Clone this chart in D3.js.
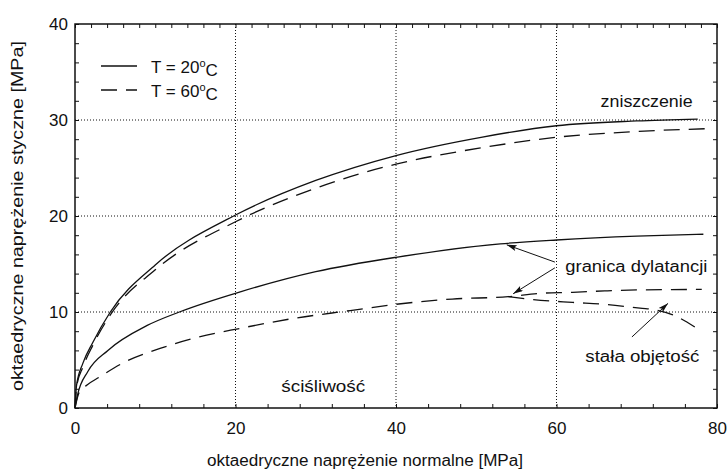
<!DOCTYPE html>
<html>
<head>
<meta charset="utf-8">
<script src="https://cdn.jsdelivr.net/npm/d3@7"></script>
<style>
  body { margin: 0; background: #fff; }
  svg text { font-family: "Liberation Sans", Arial, sans-serif; fill: #111; }
</style>
</head>
<body>
<svg id="chart" width="728" height="472"></svg>
<script>
// axis ticks
const xTicks = [0, 20, 40, 60, 80];
const yTicks = [0, 10, 20, 30, 40];

// granica zniszczenia (failure)
const failure20 = [[0,0],[0.2,2.4],[1,4.7],[2.2,6.8],[4.4,10],[10,14.9],[20,20.1],[30,23.7],[40,26.3],[50.6,28.2],[60,29.4],[70,29.9],[77.6,30.1]];
const failure60 = [[0,0],[0.2,2.2],[1,4.3],[2.2,6.5],[4.4,9.7],[10,14.4],[20,19.4],[30,22.9],[35.5,24.4],[40,25.4],[50.6,27.1],[60,28.2],[70,28.8],[78.8,29.1]];

// granica dylatancji
const dilat20 = [[0,0],[0.3,1.3],[1.6,3.8],[4.1,6.0],[9,8.6],[13,10],[20.6,12.1],[30,14.2],[40,15.7],[53,17.1],[60,17.5],[70,17.9],[78.3,18.1]];
const dilat60 = [[0,0],[0.5,1.6],[1.5,2.4],[3,3.2],[6,4.7],[10.6,6.2],[15,7.3],[20.6,8.3],[27,9.3],[34.3,10.15],[40,10.8],[47,11.35],[54,11.6],[58,11.95],[62,12.05],[66,12.2],[70,12.3],[78.1,12.35]];

// stała objętość
const constVol = [[54,11.6],[57,11.3],[62,11.0],[66,10.8],[70.4,10.4],[72.5,10.2],[74.5,9.7],[77.3,8.4]];

const labels = [
  {t: "zniszczenie", x: 65.5, y: 31.9, w: 92},
  {t: "granica dylatancji", x: 61.1, y: 14.7, w: 142},
  {t: "stała objętość", x: 63.6, y: 5.4, w: 114},
  {t: "ściśliwość", x: 25.7, y: 2.3, w: 84}
];
const arrows = [
  {from: [59.8, 15.2], to: [53.8, 17.0]},
  {from: [59.8, 14.6], to: [54.6, 11.9]},
  {from: [69.4, 7.4], to: [73.9, 10.9]}
];

const svg = d3.select("#chart");
const margin = {left: 75, right: 11, top: 24, bottom: 64};
const W = 728 - margin.left - margin.right;
const H = 472 - margin.top - margin.bottom;

const x = d3.scaleLinear().domain([0, 80]).range([0, W]);
const y = d3.scaleLinear().domain([0, 40]).range([H, 0]);

const g = svg.append("g").attr("transform", `translate(${margin.left},${margin.top})`);

// dotted grid
g.append("g").selectAll("line").data(xTicks.slice(1, -1)).join("line")
  .attr("x1", d => x(d)).attr("x2", d => x(d)).attr("y1", 0).attr("y2", H)
  .attr("stroke", "#111").attr("stroke-dasharray", "1,2");
g.append("g").selectAll("line").data(yTicks.slice(1, -1)).join("line")
  .attr("y1", d => y(d)).attr("y2", d => y(d)).attr("x1", 0).attr("x2", W)
  .attr("stroke", "#111").attr("stroke-dasharray", "1,2");

// minor ticks (inward)
function ticks(axis, vals, tr) {
  const a = g.append("g").attr("transform", tr)
    .call(axis.tickValues(vals).tickSize(-4).tickFormat(""));
  a.select(".domain").remove();
  a.selectAll("line").attr("stroke", "#111");
}
ticks(d3.axisBottom(x), d3.range(0, 81, 4), `translate(0,${H})`);
ticks(d3.axisTop(x), d3.range(0, 81, 2), "translate(0,0)");
ticks(d3.axisLeft(y), d3.range(0, 41, 2), "translate(0,0)");
ticks(d3.axisRight(y), d3.range(0, 41, 2), `translate(${W},0)`);

// tick labels
const xa = g.append("g").attr("transform", `translate(0,${H})`)
  .call(d3.axisBottom(x).tickValues(xTicks).tickSize(0).tickPadding(14));
xa.select(".domain").remove();
xa.selectAll("text").attr("font-size", 17).attr("font-family", "Liberation Sans").attr("fill", "#111");
const ya = g.append("g")
  .call(d3.axisLeft(y).tickValues(yTicks).tickSize(0).tickPadding(7));
ya.select(".domain").remove();
ya.selectAll("text").attr("font-size", 17).attr("font-family", "Liberation Sans").attr("fill", "#111");

// frame
g.append("rect").attr("width", W).attr("height", H)
  .attr("fill", "none").attr("stroke", "#111").attr("stroke-width", 1.5);

// curves
const line = d3.line().x(d => x(d[0])).y(d => y(d[1])).curve(d3.curveMonotoneX);
const series = [
  {d: failure20, dash: null},
  {d: failure60, dash: "16,9"},
  {d: dilat20, dash: null},
  {d: dilat60, dash: "16,9"},
  {d: constVol, dash: "16,9"}
];
g.append("g").selectAll("path").data(series).join("path")
  .attr("d", s => line(s.d))
  .attr("fill", "none").attr("stroke", "#111").attr("stroke-width", 1.3)
  .attr("stroke-dasharray", s => s.dash);

// annotation arrows
svg.append("defs").append("marker")
  .attr("id", "ah").attr("viewBox", "0 0 10 6").attr("refX", 10).attr("refY", 3)
  .attr("markerWidth", 13).attr("markerHeight", 6).attr("markerUnits", "userSpaceOnUse")
  .attr("orient", "auto")
  .append("path").attr("d", "M0,0L10,3L0,6L2,3Z").attr("fill", "#111");
g.append("g").selectAll("line").data(arrows).join("line")
  .attr("x1", d => x(d.from[0])).attr("y1", d => y(d.from[1]))
  .attr("x2", d => x(d.to[0])).attr("y2", d => y(d.to[1]))
  .attr("stroke", "#111").attr("stroke-width", 1).attr("marker-end", "url(#ah)");

// labels
g.append("g").selectAll("text").data(labels).join("text")
  .attr("x", d => x(d.x)).attr("y", d => y(d.y)).attr("dy", "0.35em")
  .attr("font-size", 16).attr("textLength", d => d.w).attr("lengthAdjust", "spacingAndGlyphs")
  .text(d => d.t);

// legend
const legend = [
  {label: "20", dash: null, y: 42},
  {label: "60", dash: "16,9", y: 66}
];
const lg = g.append("g").selectAll("g").data(legend).join("g")
  .attr("transform", d => `translate(0,${d.y})`);
lg.append("line").attr("x1", 26).attr("x2", 62).attr("stroke", "#111").attr("stroke-width", 1.3)
  .attr("stroke-dasharray", d => d.dash);
const lt = lg.append("text").attr("x", 76).attr("dy", "0.4em").attr("font-size", 17);
lt.append("tspan").text(d => "T = " + d.label);
lt.append("tspan").attr("dy", "-0.55em").attr("font-size", 11).text("o");
lt.append("tspan").attr("dy", "0.55em").text("C");

// axis titles
svg.append("text").attr("x", 365).attr("y", 460).attr("dy", "0.35em")
  .attr("text-anchor", "middle").attr("font-size", 16)
  .attr("textLength", 316).attr("lengthAdjust", "spacingAndGlyphs")
  .text("oktaedryczne naprężenie normalne [MPa]");
svg.append("text").attr("transform", "translate(17,216) rotate(-90)").attr("dy", "0.35em")
  .attr("text-anchor", "middle").attr("font-size", 16)
  .attr("textLength", 350).attr("lengthAdjust", "spacingAndGlyphs")
  .text("oktaedryczne naprężenie styczne [MPa]");
</script>
</body>
</html>
